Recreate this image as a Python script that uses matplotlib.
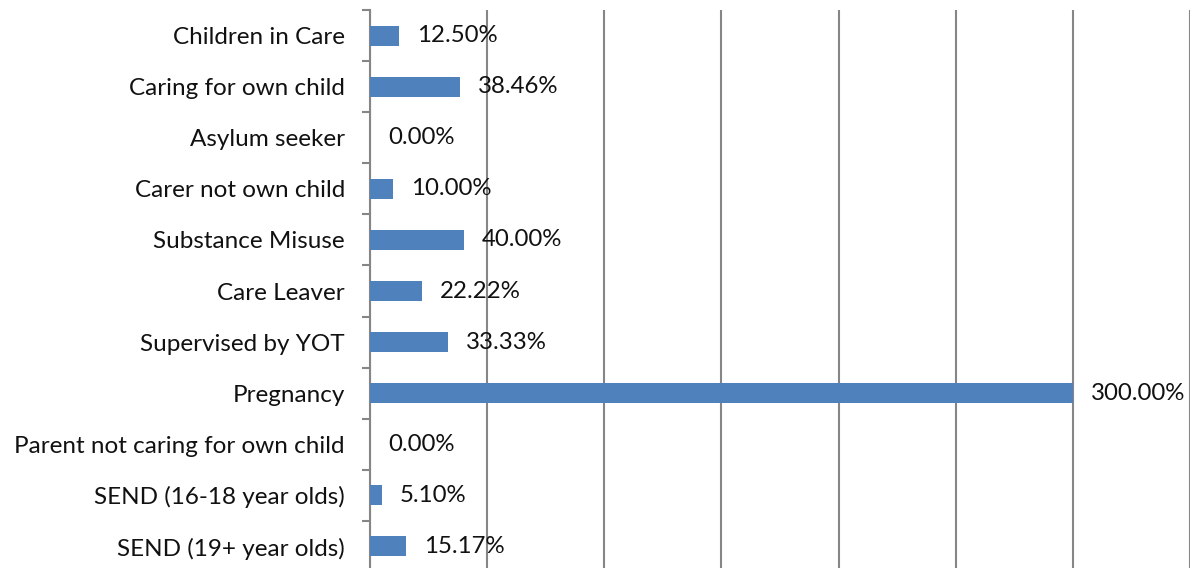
import matplotlib
matplotlib.use('Agg')
import matplotlib.pyplot as plt
from matplotlib.ticker import MultipleLocator, FixedLocator

# Data (top to bottom as shown)
categories = ['Children in Care', 'Caring for own child', 'Asylum seeker',
              'Carer not own child', 'Substance Misuse', 'Care Leaver',
              'Supervised by YOT', 'Pregnancy', 'Parent not caring for own child',
              'SEND (16-18 year olds)', 'SEND (19+ year olds)']
values = [12.50, 38.46, 0.00, 10.00, 40.00, 22.22, 33.33, 300.00, 0.00, 5.10, 15.17]

plt.rcParams['font.family'] = ['Lato', 'DejaVu Sans']

fig = plt.figure(figsize=(11.95, 5.68), dpi=100)
ax = fig.add_axes([370 / 1195, 1 - 572 / 568, 820 / 1195, 562 / 568])

n = len(categories)
ypos = list(range(n))
ax.barh(ypos, values, height=0.39, color='#4F81BD', zorder=3)

for y, v in zip(ypos, values):
    ax.annotate(f'{v:.2f}%', xy=(v, y), xytext=(13, 0), textcoords='offset points',
                ha='left', va='center', fontsize=17.3, color='#111111', zorder=4)

ax.set_xlim(0, 350)
ax.set_ylim(n - 0.5, -0.5)
ax.xaxis.set_major_locator(MultipleLocator(50))
ax.set_xticklabels([])
ax.tick_params(axis='x', length=0)
ax.grid(axis='x', color='#868686', linewidth=1.5, zorder=0)

ax.set_yticks(ypos)
ax.set_yticklabels(categories, fontsize=17.5, color='#111111')
ax.yaxis.set_minor_locator(FixedLocator([i - 0.5 for i in range(n + 1)]))
ax.tick_params(axis='y', which='major', length=0, pad=18)
ax.tick_params(axis='y', which='minor', length=6, width=1.5, color='#868686')

for side in ['top', 'right', 'bottom']:
    ax.spines[side].set_visible(False)
ax.spines['left'].set_color('#868686')
ax.spines['left'].set_linewidth(1.5)

fig.savefig('out.png', dpi=100, facecolor='white')
